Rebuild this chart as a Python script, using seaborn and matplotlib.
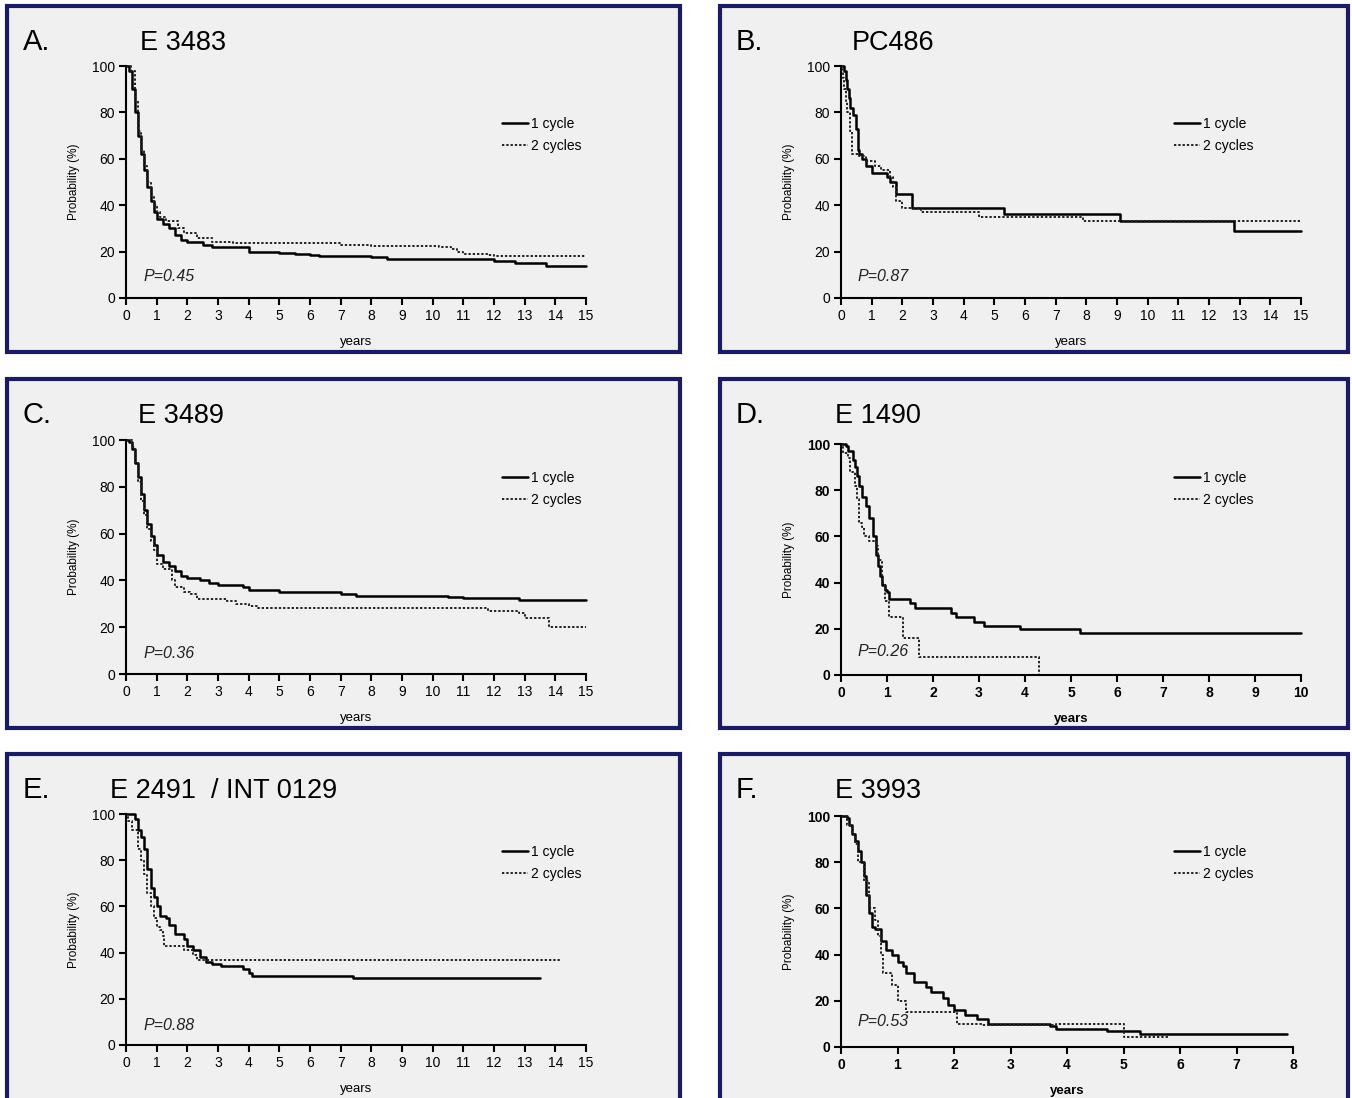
import numpy as np
import pandas as pd
import matplotlib
matplotlib.use("Agg")
import matplotlib.pyplot as plt
from matplotlib.patches import Rectangle
import seaborn as sns

# ---- data ----
# A. E 3483
a1_t = [0, 0.1, 0.2, 0.3, 0.4, 0.5, 0.6, 0.7, 0.8, 0.9, 1.0, 1.2, 1.4, 1.6, 1.8, 2.0, 2.5, 2.8, 4.0, 5.0, 5.5, 6.0, 6.3, 8.0, 8.5, 12.0, 12.7, 13.7, 15.0]
a1_s = [100, 98, 90, 80, 70, 62, 55, 48, 42, 37, 34, 32, 30, 27, 25, 24, 23, 22, 20, 19.5, 19, 18.5, 18, 17.5, 17, 16, 15, 14, 14]
a2_t = [0, 0.15, 0.3, 0.4, 0.5, 0.6, 0.7, 0.8, 0.9, 1.0, 1.1, 1.3, 1.7, 1.9, 2.3, 2.8, 3.5, 7.0, 8.0, 10.2, 10.6, 10.8, 11.0, 11.8, 12.0, 15.0]
a2_s = [100, 98, 85, 72, 64, 57, 50, 44, 40, 37, 35, 33, 30, 28, 26, 24, 23.5, 23, 22.5, 22, 21, 20, 19, 18.5, 18, 18]

# B. PC486
b1_t = [0, 0.1, 0.15, 0.2, 0.25, 0.3, 0.4, 0.5, 0.55, 0.6, 0.7, 0.8, 1.0, 1.5, 1.6, 1.8, 2.3, 5.3, 9.1, 12.8, 15.0]
b1_s = [100, 98, 94, 90, 86, 82, 79, 73, 64, 62, 60, 57, 54, 52, 50, 45, 39, 36, 33, 29, 29]
b2_t = [0, 0.05, 0.1, 0.15, 0.2, 0.3, 0.35, 0.6, 0.8, 1.1, 1.3, 1.6, 1.7, 1.8, 2.0, 2.6, 4.5, 7.9, 15.0]
b2_s = [100, 95, 90, 85, 80, 72, 62, 61, 59, 57, 55, 52, 48, 42, 39, 37, 35, 33, 33]

# C. E 3489
c1_t = [0, 0.1, 0.2, 0.3, 0.4, 0.5, 0.6, 0.7, 0.8, 0.9, 1.0, 1.2, 1.4, 1.6, 1.8, 2.0, 2.4, 2.7, 3.0, 3.8, 4.0, 5.0, 7.0, 7.5, 10.5, 11.0, 12.8, 15.0]
c1_s = [100, 99, 96, 90, 84, 77, 70, 64, 59, 55, 51, 48, 46, 44, 42, 41, 40, 39, 38, 37, 36, 35, 34, 33.5, 33, 32.5, 31.5, 31.5]
c2_t = [0, 0.2, 0.3, 0.4, 0.5, 0.6, 0.7, 0.8, 0.9, 1.0, 1.2, 1.5, 1.6, 1.9, 2.1, 2.3, 3.3, 3.6, 4.0, 4.3, 11.8, 12.8, 13.0, 13.8, 15.0]
c2_s = [100, 97, 90, 82, 74, 68, 62, 57, 53, 47, 45, 40, 37, 35, 34, 32, 31, 30, 29, 28, 27, 26, 24, 20, 20]

# D. E 1490
d1_t = [0, 0.1, 0.15, 0.25, 0.3, 0.35, 0.4, 0.45, 0.55, 0.6, 0.7, 0.75, 0.8, 0.85, 0.9, 0.95, 1.0, 1.05, 1.5, 1.6, 2.4, 2.5, 2.9, 3.1, 3.9, 5.2, 10.0]
d1_s = [100, 99, 97, 93, 90, 86, 82, 77, 73, 68, 60, 52, 47, 43, 39, 37, 36, 33, 31, 29, 27, 25, 23, 21, 20, 18, 18]
d2_t = [0, 0.05, 0.15, 0.2, 0.3, 0.35, 0.4, 0.45, 0.5, 0.6, 0.75, 0.8, 0.9, 0.95, 1.05, 1.35, 1.7, 4.3, 4.3]
d2_s = [100, 96, 94, 88, 82, 76, 66, 64, 60, 58, 56, 50, 40, 32, 25, 16, 8, 0, 0]

# E. E 2491 / INT 0129
e1_t = [0, 0.3, 0.4, 0.5, 0.6, 0.7, 0.8, 0.9, 1.0, 1.1, 1.3, 1.4, 1.6, 1.9, 2.0, 2.2, 2.4, 2.6, 2.8, 3.1, 3.8, 4.0, 4.1, 7.4, 13.5]
e1_s = [100, 98, 93, 90, 85, 76, 68, 64, 60, 56, 55, 52, 48, 46, 43, 41, 38, 36, 35, 34, 33, 31, 30, 29, 29]
e2_t = [0, 0.05, 0.2, 0.4, 0.5, 0.6, 0.7, 0.8, 0.9, 1.0, 1.1, 1.2, 1.25, 1.9, 2.2, 2.3, 14.2]
e2_s = [100, 97, 93, 85, 80, 74, 66, 60, 55, 51, 50, 47, 43, 41, 39, 37, 37]

# F. E 3993
f1_t = [0, 0.1, 0.15, 0.2, 0.25, 0.3, 0.35, 0.4, 0.45, 0.5, 0.55, 0.6, 0.7, 0.8, 0.9, 1.0, 1.1, 1.15, 1.3, 1.5, 1.6, 1.8, 1.9, 2.0, 2.2, 2.4, 2.6, 3.7, 3.8, 4.7, 5.3, 7.9]
f1_s = [100, 99, 96, 92, 89, 85, 80, 74, 66, 58, 52, 51, 46, 42, 40, 37, 35, 32, 28, 26, 24, 21, 18, 16, 14, 12, 10, 9, 8, 7, 5.5, 5.5]
f2_t = [0, 0.1, 0.2, 0.25, 0.3, 0.4, 0.5, 0.6, 0.65, 0.7, 0.75, 0.9, 1.0, 1.15, 2.05, 2.5, 3.8, 5.0, 5.8]
f2_s = [100, 96, 92, 88, 80, 72, 60, 55, 48, 40, 32, 27, 20, 15, 10, 9.5, 10, 4.5, 4.5]

letters = ["A.", "B.", "C.", "D.", "E.", "F."]
studies = ["E 3483", "PC486", "E 3489", "E 1490", "E 2491  / INT 0129", "E 3993"]
pvals = ["P=0.45", "P=0.87", "P=0.36", "P=0.26", "P=0.88", "P=0.53"]
xmax = [15, 15, 15, 10, 15, 8]
groups = ["1 cycle", "2 cycles"]
curves = [(a1_t, a1_s, a2_t, a2_s), (b1_t, b1_s, b2_t, b2_s), (c1_t, c1_s, c2_t, c2_s),
          (d1_t, d1_s, d2_t, d2_s), (e1_t, e1_s, e2_t, e2_s), (f1_t, f1_s, f2_t, f2_s)]

sns.set_style("ticks")
plt.rcParams['font.family'] = ['Liberation Sans Narrow', 'Liberation Sans', 'DejaVu Sans']
plt.rcParams['text.color'] = 'black'

W, H = 1352, 1098
fig = plt.figure(figsize=(W / 100, H / 100), dpi=100)
fig.patch.set_facecolor("white")

# panel boxes (pixels): left, top, right, bottom
boxes = [(7, 6, 680, 352), (720, 6, 1348, 352),
         (7, 379, 680, 728), (720, 379, 1348, 728),
         (7, 754, 680, 1110), (720, 754, 1348, 1110)]
# axes (pixels): x0, x_right, y_top(100), y_bottom(0)
axpos = [(126, 586, 66, 298), (841, 1301, 66, 298),
         (126, 586, 440, 674), (841, 1301, 444, 675),
         (126, 586, 814, 1045), (841, 1293, 816, 1047)]
legy = [(126, 148), (126, 148), (480, 503), (480, 503), (854, 877), (854, 877)]
ptxt = [(143, 277), (857, 277), (143, 654), (857, 652), (143, 1025), (857, 1021)]
title_x = [140, 852, 138, 835, 110, 835]

navy = "#1b1b63"
for i in range(6):
    l, t, r, b = boxes[i]
    fig.patches.append(Rectangle((l / W, 1 - b / H), (r - l) / W, (b - t) / H,
                                 transform=fig.transFigure, facecolor="#f0f0f0",
                                 edgecolor=navy, linewidth=3, zorder=-5))
    fig.text((l + 16) / W, 1 - (t + 36) / H, letters[i], fontsize=21,
             family=['Liberation Sans', 'DejaVu Sans'], va="center", ha="left", zorder=2)
    fig.text(title_x[i] / W, 1 - (t + 37) / H, studies[i], fontsize=19.5,
             family=['Liberation Sans', 'DejaVu Sans'], va="center", ha="left", zorder=2)

    x0, x1, y1, y0 = axpos[i]
    ax = fig.add_axes([x0 / W, 1 - y0 / H, (x1 - x0) / W, (y0 - y1) / H])
    ax.set_zorder(3)
    ax.patch.set_alpha(0)

    t1, s1, t2, s2 = curves[i]
    df = pd.concat([pd.DataFrame({"years": t1, "surv": s1, "group": groups[0]}),
                    pd.DataFrame({"years": t2, "surv": s2, "group": groups[1]})])
    sns.lineplot(data=df[df.group == groups[0]], x="years", y="surv", ax=ax,
                 estimator=None, sort=False, drawstyle="steps-post",
                 color="black", linewidth=1.8, clip_on=False, label=groups[0])
    sns.lineplot(data=df[df.group == groups[1]], x="years", y="surv", ax=ax,
                 estimator=None, sort=False, drawstyle="steps-post",
                 color="#222222", linewidth=1.4, linestyle=(0, (1.2, 1.0)),
                 clip_on=False, label=groups[1])

    ax.set_xlim(0, xmax[i])
    ax.set_ylim(0, 100)
    ax.set_xticks(range(0, xmax[i] + 1))
    ax.set_yticks([0, 20, 40, 60, 80, 100])
    sns.despine(ax=ax)
    for sp in ["left", "bottom"]:
        ax.spines[sp].set_linewidth(1.5)
        ax.spines[sp].set_color("black")
    bold = "bold" if i in (3, 5) else "normal"
    ax.tick_params(axis="both", direction="out", length=5, width=1.5,
                   labelsize=10, pad=3, colors="black")
    for lab in ax.get_xticklabels() + ax.get_yticklabels():
        lab.set_fontweight(bold)
    ax.set_xlabel("years", fontsize=9.5, fontweight=bold, color="black")
    ax.set_ylabel("Probability (%)", fontsize=8.5, color="black")
    # label offsets relative to this panel's axes
    ax.xaxis.set_label_coords(0.5, -38 / (y0 - y1))
    ax.yaxis.set_label_coords(-46 / (x1 - x0), 0.5)

    ly1, ly2 = legy[i]
    hx = 502 if i % 2 == 0 else 1174
    ax.legend(loc="upper left", frameon=False, fontsize=10, handlelength=1.9,
              handletextpad=0.2, labelspacing=0.55, borderaxespad=0, borderpad=0,
              bbox_to_anchor=((hx - x0) / (x1 - x0), (y0 - ly1 + 9) / (y0 - y1)))
    px, py = ptxt[i]
    ax.text((px - x0) / (x1 - x0), (y0 - py) / (y0 - y1), pvals[i], transform=ax.transAxes,
            fontsize=11.5, style="italic", color="#222222", va="center", ha="left")

fig.savefig("out.png", dpi=100, facecolor="white")
